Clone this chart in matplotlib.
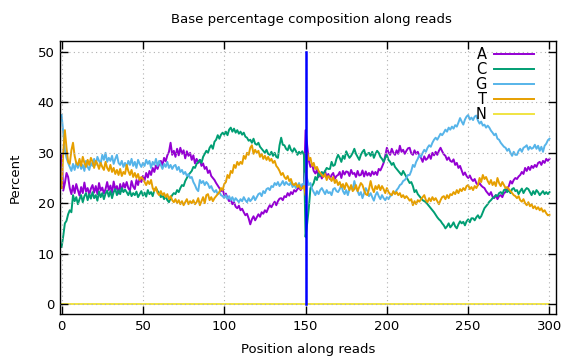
import matplotlib
matplotlib.use("Agg")
import matplotlib.pyplot as plt
import numpy as np

plt.rcParams['font.family'] = ['DejaVu Sans']

positions = list(range(0, 301))

base_A = [
 29.5, 22.5, 24.0, 26.0, 25.2, 23.0, 21.8, 23.5, 22.0, 23.8,
 22.6, 21.5, 23.2, 22.0, 24.1, 22.3, 23.0, 21.7, 22.9, 23.6,
 22.1, 23.4, 21.8, 24.0, 22.5, 23.1, 21.9, 22.8, 24.2, 22.6,
 23.5, 22.0, 24.3, 22.7, 23.4, 21.9, 23.8, 22.4, 24.0, 23.1,
 24.2, 23.0, 22.5, 24.4, 23.3, 22.8, 24.6, 23.6, 25.0, 24.2,
 25.4, 24.5, 26.0, 25.1, 26.4, 25.6, 27.0, 26.2, 27.5, 26.8,
 27.8, 28.4, 27.5, 29.0, 28.3, 29.5, 30.2, 32.0, 29.6, 30.4,
 29.2, 30.8, 29.5, 31.0, 29.8, 30.5, 28.9, 30.3, 29.4, 30.0,
 28.6, 29.5, 27.9, 28.8, 28.0, 28.6, 27.4, 27.9, 26.8, 27.2,
 26.0, 26.5, 25.4, 25.0, 24.6, 24.0, 23.5, 23.0, 22.4, 22.8,
 21.6, 21.9, 21.0, 20.4, 20.8, 19.8, 20.2, 19.3, 19.0, 19.5,
 18.6, 18.9, 18.2, 17.6, 17.9, 17.0, 15.8, 16.8, 17.4, 16.6,
 17.2, 17.8, 17.3, 18.2, 17.9, 18.6, 18.2, 19.0, 19.6, 19.2,
 19.8, 20.3, 19.6, 20.4, 20.9, 21.0, 20.6, 21.4, 21.2, 22.0,
 21.5, 22.2, 21.8, 22.6, 22.3, 22.8, 23.1, 22.6, 23.2, 24.0,
 34.5, 31.5, 28.4, 27.2, 27.8, 26.4, 25.9, 26.6, 25.2, 25.8,
 24.9, 25.6, 26.4, 25.1, 25.8, 24.8, 25.6, 26.0, 24.8, 25.4,
 25.6, 26.2, 25.0, 26.4, 25.7, 26.3, 26.2, 25.4, 26.6, 25.8,
 26.0, 25.2, 26.4, 25.5, 25.6, 26.5, 25.3, 26.3, 25.5, 26.0,
 25.4, 26.3, 25.7, 26.2, 25.6, 26.8, 26.5, 27.2, 28.0, 29.4,
 31.0, 30.1, 29.6, 30.8, 30.0, 29.6, 30.5, 29.8, 31.4, 30.2,
 30.6, 29.8, 30.4, 30.9, 31.0, 29.9, 29.6, 30.5, 29.8, 30.2,
 29.4, 29.0, 28.2, 29.3, 28.6, 28.9, 29.6, 28.8, 30.0, 29.5,
 30.2, 29.6, 30.4, 31.0, 30.3, 29.7, 29.4, 28.6, 29.1, 28.4,
 28.2, 28.7, 27.6, 28.0, 27.0, 27.4, 26.5, 25.6, 26.1, 25.4,
 25.0, 25.5, 24.8, 24.4, 24.8, 24.0, 23.6, 24.0, 23.5, 23.2,
 23.0, 22.4, 22.0, 21.6, 22.2, 21.3, 21.0, 21.6, 20.8, 21.4,
 21.6, 21.2, 22.0, 22.2, 22.8, 23.4, 24.4, 23.9, 24.6, 25.0,
 24.8, 25.3, 25.6, 26.2, 25.8, 27.0, 26.4, 27.2, 26.6, 27.4,
 27.0, 27.6, 27.2, 28.0, 28.2, 27.6, 28.4, 28.0, 28.8, 28.4,
 28.8]

base_C = [
 11.3, 13.5, 16.0, 16.5, 17.8, 18.6, 18.2, 21.6, 20.4, 21.2,
 19.8, 20.8, 21.6, 20.2, 21.4, 22.0, 20.6, 21.8, 20.9, 22.2,
 21.0, 21.6, 20.5, 22.3, 21.2, 22.0, 20.8, 21.9, 22.5, 21.3,
 22.4, 21.0, 22.2, 22.8, 21.6, 22.6, 21.8, 23.0, 22.2, 22.7,
 22.2, 21.6, 22.4, 21.4, 22.0, 21.6, 22.3, 21.2, 21.8, 22.4,
 21.5, 22.1, 21.3, 22.6, 21.8, 22.2, 21.4, 22.6, 23.0, 22.4,
 22.0, 21.2, 21.6, 20.8, 21.4, 20.6, 20.2, 21.0, 21.6, 22.0,
 21.8, 22.6, 22.2, 23.0, 23.6, 23.4, 24.4, 25.0, 25.6, 26.0,
 26.4, 27.2, 27.0, 27.8, 28.2, 28.6, 28.0, 29.2, 29.8, 30.4,
 30.0, 31.0, 31.5, 30.8, 32.2, 32.6, 33.5, 32.8, 33.6, 34.0,
 33.6, 34.2, 33.5, 34.6, 35.0, 34.2, 34.8, 34.0, 34.5, 33.8,
 34.2, 33.6, 34.0, 33.2, 33.0, 32.4, 32.6, 32.0, 32.8, 31.8,
 31.6, 32.0, 31.2, 30.8, 30.4, 30.0, 30.6, 29.8, 29.6, 30.2,
 29.4, 30.0, 29.2, 29.0, 31.5, 33.0, 31.6, 31.5, 30.8, 30.5,
 31.5, 30.6, 30.2, 30.9, 30.4, 29.6, 30.2, 29.8, 30.3, 29.6,
 13.3, 16.0, 19.0, 23.0, 23.4, 24.0, 25.2, 24.6, 26.0, 25.4,
 26.2, 25.8, 26.4, 27.0, 26.8, 26.8, 28.2, 27.4, 27.6, 28.8,
 29.6, 29.0, 28.2, 29.4, 28.8, 30.3, 29.6, 29.0, 29.4, 30.0,
 30.8, 29.8, 29.2, 28.6, 29.6, 30.2, 30.6, 29.4, 29.8, 30.0,
 29.4, 30.2, 29.0, 29.8, 30.4, 30.0, 29.2, 28.8, 28.2, 29.0,
 29.6, 28.6, 28.2, 27.6, 28.0, 27.2, 26.8, 26.4, 26.0, 25.6,
 26.4, 25.8, 25.2, 24.6, 24.0, 24.2, 23.4, 22.2, 22.6, 21.8,
 21.4, 21.0, 20.6, 20.4, 20.2, 19.8, 19.4, 19.0, 18.6, 18.2,
 17.7, 17.2, 16.8, 16.5, 16.0, 15.6, 15.0, 15.4, 16.0, 15.2,
 15.6, 16.2, 15.4, 15.0, 15.8, 16.4, 16.0, 16.3, 15.6, 16.4,
 16.8, 16.2, 17.0, 17.0, 16.6, 17.2, 17.6, 17.0, 17.4, 18.2,
 19.0, 19.4, 19.8, 20.3, 20.6, 21.0, 21.2, 21.6, 21.4, 22.0,
 22.2, 21.8, 22.6, 22.8, 22.2, 22.6, 22.0, 22.8, 23.0, 22.4,
 22.6, 21.8, 22.4, 22.9, 22.0, 22.6, 23.0, 22.8, 22.2, 21.6,
 22.4, 21.8, 22.6, 22.2, 21.6, 22.0, 22.4, 21.8, 22.2, 21.8,
 22.2]

base_G = [
 37.5, 34.0, 30.5, 29.0, 28.0, 27.2, 26.4, 27.8, 26.6, 28.0,
 27.0, 28.2, 26.8, 27.6, 26.4, 28.4, 27.2, 26.6, 28.0, 27.4,
 28.8, 27.6, 29.2, 28.4, 27.8, 29.6, 28.6, 30.0, 28.2, 29.0,
 28.4, 29.4, 27.8, 28.8, 29.6, 28.0, 27.6, 28.4, 27.2, 28.0,
 27.2, 28.4, 27.6, 28.8, 27.4, 28.2, 27.0, 28.6, 27.8, 27.2,
 28.0, 27.4, 28.6, 27.8, 28.4, 27.0, 28.2, 27.6, 28.8, 27.4,
 28.4, 27.6, 26.8, 27.8, 27.2, 28.2, 27.0, 27.6, 26.8, 27.4,
 27.6, 26.6, 27.2, 26.2, 26.6, 25.8, 26.2, 25.4, 25.8, 25.0,
 25.2, 24.2, 23.6, 22.8, 22.4, 24.6, 24.0, 24.4, 23.6, 24.2,
 23.8, 23.0, 23.4, 22.6, 22.2, 22.6, 21.8, 22.2, 21.6, 21.4,
 21.0, 21.6, 20.8, 21.4, 20.6, 21.2, 20.4, 21.0, 20.6, 20.2,
 20.8, 20.4, 21.2, 20.6, 20.2, 21.0, 20.4, 20.8, 21.4, 20.6,
 21.2, 21.8, 22.0, 21.4, 22.4, 22.0, 22.8, 23.0, 22.6, 23.4,
 23.2, 24.0, 23.6, 24.2, 23.4, 23.8, 24.4, 23.6, 24.2, 23.8,
 23.6, 24.2, 23.2, 23.8, 23.0, 23.4, 24.0, 23.2, 23.8, 23.6,
 26.0, 24.8, 23.6, 24.0, 22.8, 22.2, 21.6, 22.4, 21.8, 22.6,
 23.0, 22.4, 21.8, 22.6, 22.0, 22.2, 21.6, 22.8, 23.0, 22.4,
 22.2, 22.8, 23.6, 22.4, 21.8, 22.6, 21.6, 22.8, 23.4, 22.6,
 24.4, 23.0, 22.4, 21.6, 22.2, 21.0, 22.0, 23.0, 22.4, 21.4,
 22.0, 21.2, 20.5, 21.6, 22.2, 21.4, 20.8, 21.6, 21.0, 20.6,
 21.2, 20.8, 21.4, 21.6, 22.2, 22.0, 22.6, 23.0, 23.6, 23.8,
 24.4, 24.6, 25.0, 25.6, 25.6, 26.4, 27.6, 27.2, 28.2, 28.8,
 29.6, 29.2, 30.0, 30.6, 30.2, 31.0, 31.5, 31.2, 32.0, 32.6,
 33.0, 32.6, 33.2, 33.8, 33.5, 34.0, 34.6, 34.2, 35.0, 34.6,
 35.2, 34.8, 35.5, 35.2, 36.0, 36.9, 36.2, 35.6, 36.6, 37.2,
 37.5, 36.6, 37.0, 36.5, 37.2, 37.4, 36.4, 35.8, 36.2, 35.4,
 35.6, 35.0, 35.4, 35.0, 34.4, 34.0, 33.5, 33.8, 32.8, 32.6,
 32.0, 31.6, 31.2, 31.0, 30.4, 30.8, 30.0, 29.4, 30.2, 29.6,
 29.6, 30.4, 30.8, 30.2, 31.0, 31.2, 31.5, 30.6, 31.2, 30.8,
 31.0, 31.6, 30.8, 31.4, 30.4, 31.2, 30.2, 31.4, 31.8, 32.5,
 32.8]

base_T = [
 23.0, 30.0, 34.5, 31.0, 28.2, 27.8, 30.5, 32.0, 29.4, 28.0,
 27.6, 28.8, 27.4, 29.2, 28.0, 27.2, 28.6, 27.6, 29.0, 28.2,
 27.0, 28.4, 27.8, 26.8, 28.0, 27.2, 26.6, 28.2, 27.0, 26.4,
 27.6, 26.2, 27.0, 25.8, 26.6, 25.6, 26.8, 25.4, 26.2, 25.8,
 27.6, 26.4, 25.6, 26.6, 25.2, 26.0, 25.0, 25.8, 24.6, 25.2,
 24.8, 24.2, 23.6, 24.4, 23.8, 24.6, 23.0, 22.4, 23.2, 22.0,
 21.6, 22.4, 21.6, 22.0, 21.2, 21.8, 20.8, 21.4, 20.6, 20.2,
 20.8, 20.0, 20.6, 19.8, 20.4, 19.6, 20.2, 20.8, 19.8, 20.4,
 20.0, 20.6, 19.8, 20.2, 21.0, 19.6, 20.4, 21.2, 20.0, 21.6,
 21.8, 20.6, 21.2, 20.4, 21.0, 21.4, 21.8, 22.2, 23.0, 22.6,
 23.8, 24.2, 25.6, 25.0, 26.4, 26.0, 27.6, 27.0, 28.2, 27.6,
 28.2, 27.8, 29.4, 28.8, 30.0, 29.6, 31.0, 31.5, 29.8, 30.6,
 30.0, 30.4, 29.2, 29.8, 28.8, 29.4, 28.6, 29.2, 28.4, 28.8,
 28.0, 28.4, 27.4, 27.0, 26.4, 25.6, 26.0, 25.2, 24.8, 25.4,
 24.4, 24.8, 23.8, 23.6, 24.0, 23.2, 23.6, 22.8, 23.0, 23.4,
 21.6, 30.0, 28.6, 29.0, 27.4, 28.0, 26.8, 27.2, 26.4, 26.0,
 25.6, 25.2, 25.8, 24.6, 25.4, 25.0, 24.4, 25.2, 24.0, 24.6,
 23.6, 24.2, 23.2, 23.8, 22.8, 24.0, 23.4, 22.6, 23.6, 22.4,
 22.8, 23.6, 22.4, 23.2, 24.0, 23.6, 22.6, 21.8, 21.6, 22.8,
 24.4, 23.0, 22.2, 23.4, 22.8, 23.6, 22.6, 23.4, 22.8, 22.0,
 23.0, 22.2, 21.8, 21.6, 22.4, 21.8, 22.2, 21.6, 22.0, 21.2,
 21.6, 21.0, 21.4, 21.0, 20.5, 20.8, 19.6, 20.4, 19.8, 20.6,
 20.3, 20.8, 21.2, 21.6, 20.6, 20.2, 21.0, 20.4, 21.2, 20.6,
 21.0, 20.4, 19.8, 20.6, 21.2, 21.4, 20.8, 21.6, 21.0, 21.8,
 21.6, 22.2, 21.8, 22.6, 22.0, 22.8, 22.4, 23.0, 22.6, 23.4,
 23.6, 22.8, 23.2, 22.6, 23.4, 23.0, 23.6, 25.0, 24.2, 25.6,
 24.8, 25.2, 24.4, 23.8, 24.6, 23.6, 24.2, 23.4, 25.0, 24.0,
 23.4, 24.2, 23.6, 23.0, 23.2, 22.8, 22.4, 22.0, 21.6, 21.4,
 21.0, 21.4, 20.6, 20.3, 20.8, 20.0, 19.6, 20.2, 19.4, 19.8,
 19.0, 19.4, 18.8, 19.2, 18.6, 19.0, 18.3, 18.6, 18.0, 17.6,
 17.7]

base_N = [0.0] * 301

series_names = ["A", "C", "G", "T", "N"]
series_colors = ["#9400d3", "#009e73", "#56b4e9", "#e69f00", "#f0e442"]
series_values = [base_A, base_C, base_G, base_T, base_N]

read_boundary = 150
x_ticks = [0, 50, 100, 150, 200, 250, 300]
y_ticks = [0, 10, 20, 30, 40, 50]

W, H = 576, 360
fig = plt.figure(figsize=(W / 100, H / 100), dpi=100)
ax = fig.add_axes([60 / W, 1 - 314 / H, (556 - 60) / W, (314 - 41) / H])

ax.plot([read_boundary, read_boundary], [0, 50], color="#0000ff", lw=1.8, zorder=3)

for name, col, vals in zip(series_names, series_colors, series_values):
    ax.plot(positions, vals, color=col, lw=1.4, label=name, zorder=2)

ax.set_xlim(-1, 304)
ax.set_ylim(-2, 52.2)
ax.set_xticks(x_ticks)
ax.set_yticks(y_ticks)
ax.grid(True, color="#b0b0b0", linestyle=(0, (1, 3)), linewidth=0.8, zorder=4)
ax.set_axisbelow(False)
ax.tick_params(direction="in", length=6, width=1, top=True, right=True,
               labelsize=9.5, pad=4)
for s in ax.spines.values():
    s.set_linewidth(1.0)

fig.text(311 / W, 1 - 20 / H, "Base percentage composition along reads",
         ha="center", va="center", fontsize=9.5)
fig.text(308 / W, 1 - 350 / H, "Position along reads",
         ha="center", va="center", fontsize=9.5)
fig.text(15 / W, 1 - 178 / H, "Percent", ha="center", va="center",
         rotation=90, fontsize=9.5)

leg = ax.legend(loc="upper right", bbox_to_anchor=(534 / W, 1 - 47 / H),
                bbox_transform=fig.transFigure, frameon=False,
                markerfirst=False, fontsize=10.5, handlelength=2.75,
                handletextpad=0.5, labelspacing=0.0, borderpad=0.0,
                borderaxespad=0.0)
for t in leg.get_texts():
    t.set_ha("right")

fig.savefig("out.png", dpi=100)
